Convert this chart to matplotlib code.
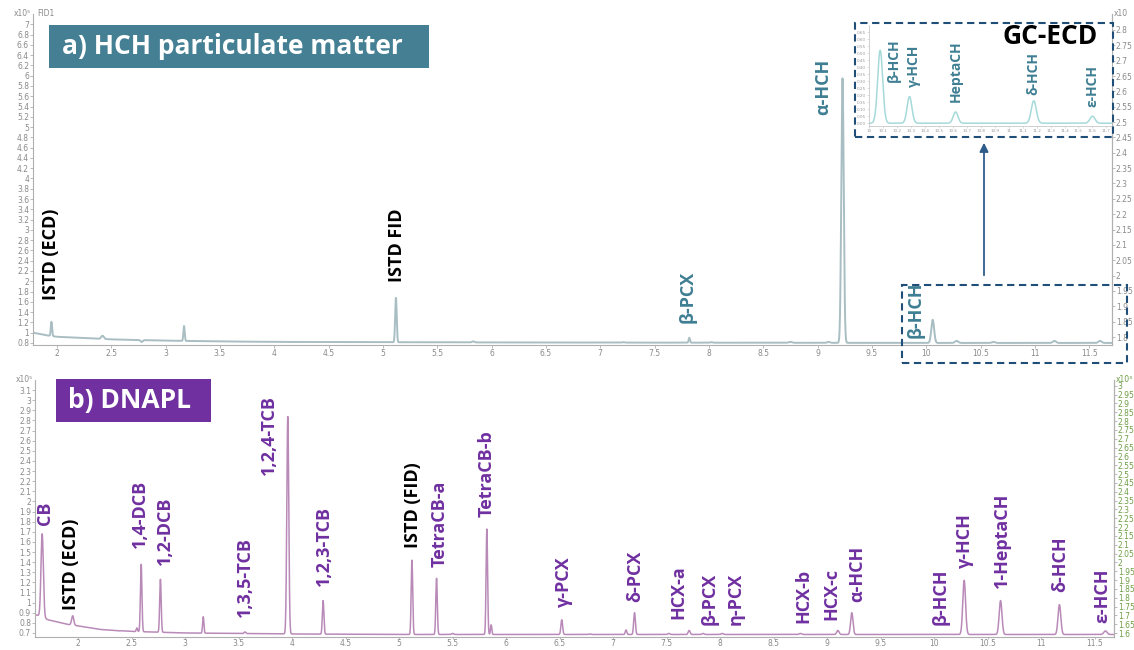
import numpy as np
import matplotlib.pyplot as plt
from matplotlib.patches import Rectangle, FancyArrowPatch

W, H = 1134, 650

# ---------------- data: panel a (GC-FID, x10^5) ----------------
a_base_rt = [1.78, 1.90, 2.00, 2.50, 3.00, 3.50, 4.00, 5.00, 6.00, 8.00, 10.00, 11.71]
a_base_val = [1.00, 0.95, 0.92, 0.87, 0.845, 0.83, 0.82, 0.815, 0.81, 0.805, 0.80, 0.80]
a_peak_rt = [1.95, 2.42, 2.78, 3.17, 3.55, 5.12, 5.83, 7.21, 7.82, 8.02, 8.75, 9.10, 9.23,
             10.06, 10.28, 10.62, 11.18, 11.60]
a_peak_top = [1.21, 0.94, 0.82, 1.13, 0.83, 1.68, 0.83, 0.815, 0.90, 0.815, 0.82, 0.82, 5.95,
              1.25, 0.84, 0.82, 0.84, 0.84]
a_peak_sigma = [0.006, 0.012, 0.010, 0.006, 0.010, 0.007, 0.010, 0.010, 0.006, 0.010, 0.015, 0.012, 0.011,
                0.013, 0.015, 0.015, 0.015, 0.015]

# ---------------- data: inset (GC-ECD) ----------------
ecd_names = ["β-HCH", "γ-HCH", "HeptaCH", "δ-HCH", "ε-HCH"]
ecd_rt = [10.08, 10.29, 10.62, 11.18, 11.60]
ecd_top = [0.52, 0.19, 0.08, 0.16, 0.05]
ecd_sigma = [0.018, 0.017, 0.017, 0.018, 0.018]

# ---------------- data: panel b (DNAPL, x10^5) ----------------
b_base_rt = [1.60, 1.64, 1.72, 1.80, 1.90, 2.00, 2.20, 2.50, 3.00, 4.00, 5.00, 7.00, 9.00, 11.68]
b_base_val = [0.88, 0.87, 0.83, 0.81, 0.785, 0.77, 0.735, 0.715, 0.70, 0.69, 0.685, 0.685, 0.685, 0.685]
b_peak_rt = [1.665, 1.95, 2.38, 2.55, 2.59, 2.77, 3.17, 3.56, 3.96, 4.29, 5.12, 5.35, 5.50, 5.82,
             5.86, 6.52, 6.78, 7.12, 7.20, 7.52, 7.71, 7.84, 8.02, 8.75, 9.10, 9.23,
             10.28, 10.62, 11.17, 11.60]
b_peak_top = [1.68, 0.87, 0.72, 0.75, 1.38, 1.23, 0.86, 0.71, 2.84, 1.02, 1.42, 1.24, 0.695, 1.73,
              0.78, 0.83, 0.69, 0.73, 0.90, 0.695, 0.725, 0.695, 0.695, 0.695, 0.725, 0.90,
              1.22, 1.02, 0.98, 0.72]
b_peak_sigma = [0.011, 0.010, 0.006, 0.006, 0.007, 0.007, 0.006, 0.008, 0.009, 0.007, 0.007, 0.007, 0.010, 0.007,
                0.006, 0.008, 0.010, 0.007, 0.008, 0.010, 0.009, 0.010, 0.010, 0.012, 0.011, 0.011,
                0.013, 0.013, 0.013, 0.015]

# peak annotations
a_names = ["ISTD (ECD)", "ISTD FID", "β-PCX", "α-HCH", "β-HCH"]
b_names = ["CB", "ISTD (ECD)", "1,4-DCB", "1,2-DCB", "1,3,5-TCB", "1,2,4-TCB", "1,2,3-TCB",
           "ISTD (FID)", "TetraCB-a", "TetraCB-b", "γ-PCX", "δ-PCX", "HCX-a", "β-PCX", "η-PCX",
           "HCX-b", "HCX-c", "α-HCH", "β-HCH", "γ-HCH", "1-HeptaCH", "δ-HCH", "ε-HCH"]


def chromatogram(x, base_rt, base_val, rt, top, sigma):
    base = np.interp(x, base_rt, base_val)
    y = base.copy()
    for r, t, s in zip(rt, top, sigma):
        amp = t - np.interp(r, base_rt, base_val)
        y += amp * np.exp(-0.5 * ((x - r) / s) ** 2)
    return y


TEAL = "#3f7f93"
TEAL_BOX = "#447f94"
PURPLE = "#7030a0"
NAVY = "#1f4e79"
FONT = "Open Sans"
TICK_COL = "#8a8a8a"
SPINE_COL = "#b0b0b0"


def px_axes(fig, left, top, right, bottom):
    return fig.add_axes([left / W, 1 - bottom / H, (right - left) / W, (bottom - top) / H])


def style_axis(ax):
    for s in ax.spines.values():
        s.set_color(SPINE_COL)
        s.set_linewidth(0.8)
    ax.spines["top"].set_visible(False)
    ax.tick_params(length=2, width=0.6, color=SPINE_COL, labelsize=5.5, labelcolor=TICK_COL, pad=0.8)


fig = plt.figure(figsize=(W / 100, H / 100), dpi=100)

# ======================= panel a =======================
ax_a = px_axes(fig, 33, 14, 1112, 345)
xa = np.linspace(1.78, 11.71, 8000)
ya = chromatogram(xa, a_base_rt, a_base_val, a_peak_rt, a_peak_top, a_peak_sigma)
ax_a.plot(xa, ya, color="#a9bec3", lw=1.4)
ax_a.set_xlim(1.78, 11.71)
ax_a.set_ylim(0.76, 7.2)
a_yt = np.round(np.arange(0.8, 7.01, 0.2), 1)
ax_a.set_yticks(a_yt)
ax_a.set_yticklabels([f"{v:g}" for v in a_yt])
ax_a.set_xticks(np.arange(2, 11.6, 0.5))
ax_a.set_xticklabels([f"{v:g}" for v in np.arange(2, 11.6, 0.5)])
style_axis(ax_a)
ax_a.spines["right"].set_visible(True)
ax_a.text(-0.002, 1.0, "x10⁵", transform=ax_a.transAxes, ha="right", va="center",
          fontsize=5.5, color=TICK_COL)
ax_a.text(0.004, 1.0, "FID1", transform=ax_a.transAxes, ha="left", va="center",
          fontsize=5.5, color=TICK_COL)

ax_ar = ax_a.twinx()
ax_ar.set_ylim(1.774, 2.852)
r_ticks = np.round(np.arange(1.8, 2.801, 0.05), 2)
ax_ar.set_yticks(r_ticks)
ax_ar.set_yticklabels([f"{v:g}" for v in r_ticks])
style_axis(ax_ar)
ax_ar.spines["left"].set_visible(False)
ax_ar.spines["bottom"].set_visible(False)
ax_ar.text(1.002, 1.0, "x10", transform=ax_ar.transAxes, ha="left", va="center",
           fontsize=5.5, color=TICK_COL)

a_lab_pos = [(1.95, 1.64), (5.13, 1.99), (7.80, 1.19), (9.05, 5.24), (9.90, 0.90)]
a_lab_col = ["black", "black", TEAL, TEAL, TEAL]
for name, (lx, ly), c in zip(a_names, a_lab_pos, a_lab_col):
    ax_a.text(lx, ly, name, rotation=90, ha="center", va="bottom", fontsize=13,
              fontweight="bold", family=FONT, color=c, zorder=6)

# ----- inset GC-ECD -----
ax_in = px_axes(fig, 869, 25, 1112, 126)
ax_in.set_zorder(5)
xi = np.linspace(10.0, 11.74, 3000)
yi = chromatogram(xi, [10.0, 11.74], [0.0, 0.0], ecd_rt, ecd_top, ecd_sigma)
ax_in.plot(xi, yi, color="#a6d9d9", lw=1.1)
ax_in.set_xlim(10.0, 11.74)
ax_in.set_ylim(-0.02, 0.70)
in_x = np.round(np.arange(10.0, 11.71, 0.1), 1)
ax_in.set_xticks(in_x)
ax_in.set_xticklabels([f"{v:g}" for v in in_x])
in_y = np.round(np.arange(0.0, 0.66, 0.05), 2)
ax_in.set_yticks(in_y)
ax_in.set_yticklabels([f"{v:.2f}" for v in in_y])
for s in ax_in.spines.values():
    s.set_color("#c8c8c8")
    s.set_linewidth(0.6)
ax_in.spines["top"].set_visible(False)
ax_in.spines["right"].set_visible(False)
ax_in.tick_params(length=1.5, width=0.4, color="#c8c8c8", labelsize=3, labelcolor="#999999", pad=0.5)

in_lab_pos = [(10.18, 0.294), (10.32, 0.258), (10.62, 0.151), (11.18, 0.201), (11.60, 0.115)]
for name, (lx, ly) in zip(ecd_names, in_lab_pos):
    ax_in.text(lx, ly, name, rotation=90, ha="center", va="bottom", fontsize=10,
               fontweight="bold", family=FONT, color=TEAL)

# ======================= panel b =======================
ax_b = px_axes(fig, 35, 380, 1114, 637)
xb = np.linspace(1.598, 11.68, 9000)
yb = chromatogram(xb, b_base_rt, b_base_val, b_peak_rt, b_peak_top, b_peak_sigma)
ax_b.plot(xb, yb, color="#b98ab8", lw=1.1)
ax_b.set_xlim(1.598, 11.68)
ax_b.set_ylim(0.66, 3.2)
bl = np.round(np.arange(0.7, 3.11, 0.1), 1)
ax_b.set_yticks(bl)
ax_b.set_yticklabels([f"{v:g}" for v in bl])
ax_b.set_xticks(np.arange(2, 11.6, 0.5))
ax_b.set_xticklabels([f"{v:g}" for v in np.arange(2, 11.6, 0.5)])
style_axis(ax_b)
ax_b.tick_params(axis="x", pad=0.3, length=1.5)
ax_b.text(-0.002, 1.0, "x10⁵", transform=ax_b.transAxes, ha="right", va="center",
          fontsize=5.5, color=TICK_COL)

ax_br = ax_b.twinx()
ax_br.set_ylim(1.578, 3.033)
br = np.round(np.arange(1.6, 3.001, 0.05), 2)
ax_br.set_yticks(br)
ax_br.set_yticklabels([f"{v:g}" for v in br])
style_axis(ax_br)
ax_br.tick_params(labelcolor="#6f9e45")
ax_br.spines["left"].set_visible(False)
ax_br.spines["bottom"].set_visible(False)
ax_br.text(1.002, 1.0, "x10³", transform=ax_br.transAxes, ha="left", va="center",
           fontsize=5.5, color="#6f9e45")

b_lab_pos = [(1.69, 1.77), (1.93, 0.93), (2.58, 1.54), (2.81, 1.37), (3.56, 0.86), (3.78, 2.26),
             (4.30, 1.16), (5.13, 1.54), (5.38, 1.35), (5.82, 1.85), (6.54, 0.96), (7.21, 1.01),
             (7.61, 0.84), (7.90, 0.78), (8.14, 0.78), (8.78, 0.80), (9.04, 0.83), (9.28, 1.01),
             (10.06, 0.78), (10.29, 1.34), (10.63, 1.14), (11.18, 1.10), (11.57, 0.80)]
for name, (lx, ly) in zip(b_names, b_lab_pos):
    c = "black" if name.startswith("ISTD") else PURPLE
    ax_b.text(lx, ly, name, rotation=90, ha="center", va="bottom", fontsize=13,
              fontweight="bold", family=FONT, color=c, zorder=6)

# ======================= titles and callouts =======================
def fig_rect(x0, y0, x1, y1, **kw):
    r = Rectangle((x0 / W, 1 - y1 / H), (x1 - x0) / W, (y1 - y0) / H,
                  transform=fig.transFigure, **kw)
    fig.add_artist(r)
    return r


fig_rect(49, 25, 429, 68, facecolor=TEAL_BOX, edgecolor="none", zorder=10)
fig.text(62 / W, 1 - 46.5 / H, "a) HCH particulate matter", ha="left", va="center",
         fontsize=19, fontweight="bold", family=FONT, color="white", zorder=11)

fig_rect(56, 379, 211, 422, facecolor=PURPLE, edgecolor="none", zorder=10)
fig.text(68 / W, 1 - 400.5 / H, "b) DNAPL", ha="left", va="center",
         fontsize=19, fontweight="bold", family=FONT, color="white", zorder=11)

fig.text(1002 / W, 1 - 36 / H, "GC-ECD", ha="left", va="center",
         fontsize=19, fontweight="bold", family=FONT, color="black", zorder=11)

dash = (0, (3.5, 2.2))
fig_rect(855, 23, 1113, 137, facecolor="none", edgecolor=NAVY, lw=1.5, linestyle=dash, zorder=12)
fig_rect(902, 285, 1127, 363, facecolor="none", edgecolor=NAVY, lw=1.5, linestyle=dash, zorder=12)

arrow = FancyArrowPatch((984 / W, 1 - 278 / H), (984 / W, 1 - 140 / H),
                        transform=fig.transFigure, arrowstyle="-|>", mutation_scale=13,
                        color="#2e5d8c", lw=1.3, zorder=12)
fig.add_artist(arrow)

fig.savefig("out.png", dpi=100)
